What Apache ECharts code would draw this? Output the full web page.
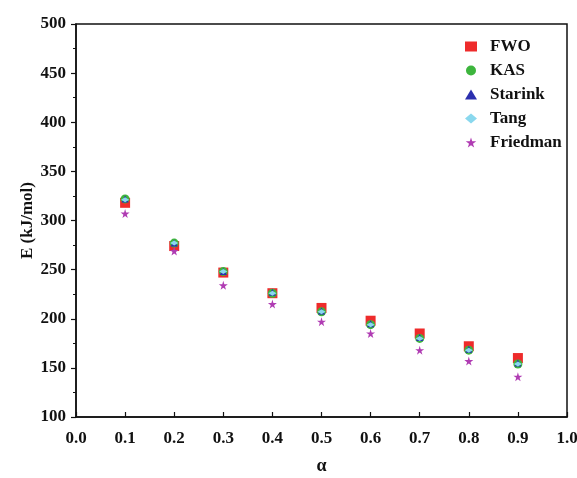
<!DOCTYPE html>
<html>
<head>
<meta charset="utf-8">
<script src="https://cdn.jsdelivr.net/npm/echarts@6/dist/echarts.min.js"></script>
<style>
  html, body { margin: 0; padding: 0; background: #ffffff; }
  #chart { width: 577px; height: 478px; }
</style>
</head>
<body>
<div id="chart"></div>
<script>
// Conversion degree values
const alpha = [0.1, 0.2, 0.3, 0.4, 0.5, 0.6, 0.7, 0.8, 0.9];

// Activation energy (kJ/mol) from each isoconversional method
const fwo      = [318, 274, 247, 226, 211, 198, 185, 172, 160];
const kas      = [322, 277, 248, 226, 207, 194, 180, 168, 154];
const starink  = [322, 277, 248, 227, 208, 195, 181, 169, 155];
const tang     = [321, 277, 248, 226, 207, 194, 180, 168, 154];
const friedman = [307, 269, 234, 215, 197, 185, 168, 157, 141];

const methodNames = ['FWO', 'KAS', 'Starink', 'Tang', 'Friedman'];
const xTicks = [0.0, 0.1, 0.2, 0.3, 0.4, 0.5, 0.6, 0.7, 0.8, 0.9, 1.0];

const STAR = 'path://M50,0 L61,35 L98,35 L68,57 L79,91 L50,70 L21,91 L32,57 L2,35 L39,35 Z';
const FONT = '"Liberation Serif", "DejaVu Serif", serif';

function pairs(ys) {
  return alpha.map((a, i) => [a, ys[i]]);
}

const seriesDefs = [
  { name: methodNames[0], data: fwo,      symbol: 'rect',     size: 10,     color: '#ee2b2b' },
  { name: methodNames[1], data: kas,      symbol: 'circle',   size: 9,      color: '#3db53d' },
  { name: methodNames[2], data: starink,  symbol: 'triangle', size: 7,      color: '#2b2fae' },
  { name: methodNames[3], data: tang,     symbol: 'diamond',  size: [8, 5], color: '#8ad8ee' },
  { name: methodNames[4], data: friedman, symbol: STAR,       size: 9,      color: '#b03cb3' }
];

const chart = echarts.init(document.getElementById('chart'), null, { renderer: 'canvas' });

const axisLine = { show: true, lineStyle: { color: '#111', width: 1.5 } };
const labelStyle = { color: '#111', fontFamily: FONT, fontWeight: 'bold', fontSize: 17 };

chart.setOption({
  animation: false,
  backgroundColor: '#ffffff',
  grid: {
    left: 76, right: 10, top: 24, bottom: 61,
    containLabel: false,
    outerBoundsMode: 'none',
    show: true, borderColor: '#111', borderWidth: 1.5, backgroundColor: '#fff'
  },
  legend: {
    orient: 'vertical',
    left: 460,
    top: 33,
    itemWidth: 12,
    itemHeight: 10,
    itemGap: 7,
    data: methodNames,
    textStyle: { color: '#111', fontFamily: FONT, fontWeight: 'bold', fontSize: 17, lineHeight: 15, padding: [0, 0, 0, 8] }
  },
  xAxis: {
    type: 'value',
    min: 0,
    max: 1,
    interval: 0.1,
    name: 'α',
    nameLocation: 'middle',
    nameGap: 40,
    nameMoveOverlap: false,
    nameTextStyle: { color: '#111', fontFamily: FONT, fontWeight: 'bold', fontSize: 18 },
    axisLine: axisLine,
    axisTick: { show: true, inside: true, length: 5, lineStyle: { color: '#111', width: 1.2 } },
    axisLabel: Object.assign({ margin: 13, formatter: v => xTicks.reduce((b, t) => Math.abs(t - v) < 1e-6 ? t.toFixed(1) : b, v.toFixed(1)) }, labelStyle),
    splitLine: { show: false }
  },
  yAxis: {
    type: 'value',
    min: 100,
    max: 500,
    interval: 50,
    name: 'E (kJ/mol)',
    nameLocation: 'middle',
    nameGap: 40,
    nameMoveOverlap: false,
    nameTextStyle: { color: '#111', fontFamily: FONT, fontWeight: 'bold', fontSize: 17 },
    axisLine: axisLine,
    axisTick: { show: true, inside: false, length: 5, lineStyle: { color: '#111', width: 1.2 } },
    minorTick: { show: true, splitNumber: 2, length: 3, lineStyle: { color: '#111', width: 1 } },
    axisLabel: Object.assign({ margin: 10 }, labelStyle),
    splitLine: { show: false }
  },
  series: seriesDefs.map(s => ({
    name: s.name,
    type: 'scatter',
    data: pairs(s.data),
    symbol: s.symbol,
    symbolSize: s.size,
    itemStyle: { color: s.color, opacity: 1 }
  }))
});
</script>
</body>
</html>
